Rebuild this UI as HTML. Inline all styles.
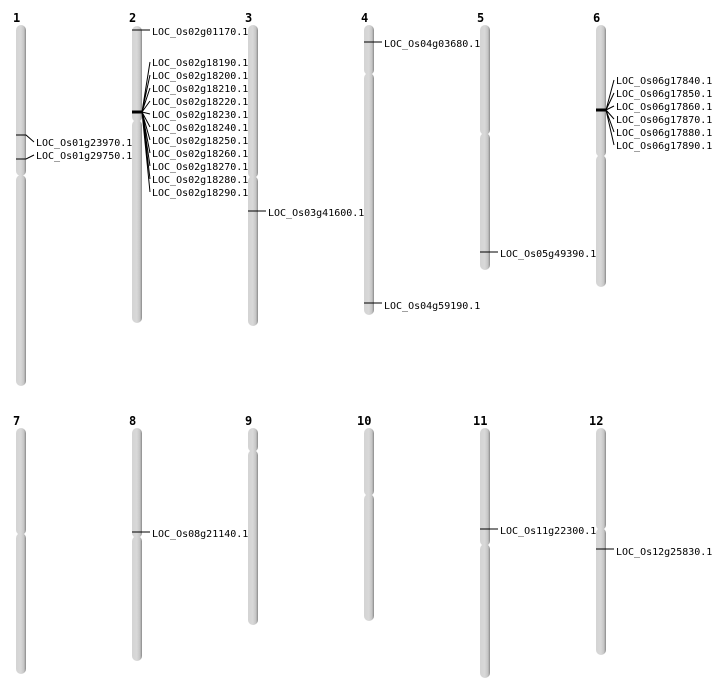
<!DOCTYPE html>
<html><head><meta charset="utf-8"><style>
html,body{margin:0;padding:0;background:#fff;}
svg{display:block;}
text{font-family:"DejaVu Sans Mono","Liberation Mono",monospace;font-size:10px;fill:#000;}
.n{font-family:"DejaVu Sans Mono","Liberation Mono",monospace;font-size:12px;font-weight:bold;}
</style></head><body>
<svg width="712" height="700" viewBox="0 0 712 700" xmlns="http://www.w3.org/2000/svg">
<defs>
<linearGradient id="g" x1="0" x2="1" y1="0" y2="0">
<stop offset="0" stop-color="#d4d4d4"/>
<stop offset="0.5" stop-color="#d8d8d8"/>
<stop offset="0.8" stop-color="#c4c4c4"/>
<stop offset="1" stop-color="#8a8a8a"/>
</linearGradient>
</defs>
<g fill="url(#g)">
<rect x="16" y="25" width="10" height="151" rx="5"/><rect x="16" y="175" width="10" height="211" rx="5"/>
<rect x="132" y="26" width="10" height="96" rx="5"/><rect x="132" y="120" width="10" height="203" rx="5"/>
<rect x="248" y="25" width="10" height="153" rx="5"/><rect x="248" y="176" width="10" height="150" rx="5"/>
<rect x="364" y="25" width="10" height="50" rx="5"/><rect x="364" y="73" width="10" height="242" rx="5"/>
<rect x="480" y="25" width="10" height="110" rx="5"/><rect x="480" y="133" width="10" height="137" rx="5"/>
<rect x="596" y="25" width="10" height="132" rx="5"/><rect x="596" y="155" width="10" height="132" rx="5"/>
<rect x="16" y="428" width="10" height="107" rx="5"/><rect x="16" y="533" width="10" height="141" rx="5"/>
<rect x="132" y="428" width="10" height="110" rx="5"/><rect x="132" y="536" width="10" height="125" rx="5"/>
<rect x="248" y="428" width="10" height="24" rx="5"/><rect x="248" y="450" width="10" height="175" rx="5"/>
<rect x="364" y="428" width="10" height="68" rx="5"/><rect x="364" y="494" width="10" height="127" rx="5"/>
<rect x="480" y="428" width="10" height="118" rx="5"/><rect x="480" y="544" width="10" height="134" rx="5"/>
<rect x="596" y="428" width="10" height="102" rx="5"/><rect x="596" y="528" width="10" height="127" rx="5"/>
</g>
<text class="n" x="13" y="22">1</text><text class="n" x="129" y="22">2</text><text class="n" x="245" y="22">3</text>
<text class="n" x="361" y="22">4</text><text class="n" x="477" y="22">5</text><text class="n" x="593" y="22">6</text>
<text class="n" x="13" y="425">7</text><text class="n" x="129" y="425">8</text><text class="n" x="245" y="425">9</text>
<text class="n" x="357" y="425">10</text><text class="n" x="473" y="425">11</text><text class="n" x="589" y="425">12</text>
<g stroke="#000" stroke-width="1" fill="none">
<path d="M16 135H26L34 142"/><path d="M16 159H26L34 155"/>
<path d="M132 30H150"/>
<path d="M132 112H142" stroke-width="3"/>
<path d="M142 112L150 62M142 112L150 75M142 112L150 88M142 112L150 101M142 112L150 114M142 112L150 127M142 112L150 140M142 112L150 153M142 112L150 166M142 112L150 179M142 112L150 192"/>
<path d="M248 211H266"/>
<path d="M364 42H382"/><path d="M364 303H382"/>
<path d="M480 252H498"/>
<path d="M596 110H606" stroke-width="3"/>
<path d="M606 110L614 80M606 110L614 93M606 110L614 106M606 110L614 119M606 110L614 132M606 110L614 145"/>
<path d="M132 532H150"/>
<path d="M480 529H498"/>
<path d="M596 549H614"/>
</g>
<g dominant-baseline="middle" transform="translate(0,1)">
<text x="36" y="142">LOC_Os01g23970.1</text>
<text x="36" y="155">LOC_Os01g29750.1</text>
<text x="152" y="31">LOC_Os02g01170.1</text>
<text x="152" y="62">LOC_Os02g18190.1</text>
<text x="152" y="75">LOC_Os02g18200.1</text>
<text x="152" y="88">LOC_Os02g18210.1</text>
<text x="152" y="101">LOC_Os02g18220.1</text>
<text x="152" y="114">LOC_Os02g18230.1</text>
<text x="152" y="127">LOC_Os02g18240.1</text>
<text x="152" y="140">LOC_Os02g18250.1</text>
<text x="152" y="153">LOC_Os02g18260.1</text>
<text x="152" y="166">LOC_Os02g18270.1</text>
<text x="152" y="179">LOC_Os02g18280.1</text>
<text x="152" y="192">LOC_Os02g18290.1</text>
<text x="268" y="212">LOC_Os03g41600.1</text>
<text x="384" y="43">LOC_Os04g03680.1</text>
<text x="384" y="305">LOC_Os04g59190.1</text>
<text x="500" y="253">LOC_Os05g49390.1</text>
<text x="616" y="80">LOC_Os06g17840.1</text>
<text x="616" y="93">LOC_Os06g17850.1</text>
<text x="616" y="106">LOC_Os06g17860.1</text>
<text x="616" y="119">LOC_Os06g17870.1</text>
<text x="616" y="132">LOC_Os06g17880.1</text>
<text x="616" y="145">LOC_Os06g17890.1</text>
<text x="152" y="533">LOC_Os08g21140.1</text>
<text x="500" y="530">LOC_Os11g22300.1</text>
<text x="616" y="551">LOC_Os12g25830.1</text>
</g>
</svg>
</body></html>
